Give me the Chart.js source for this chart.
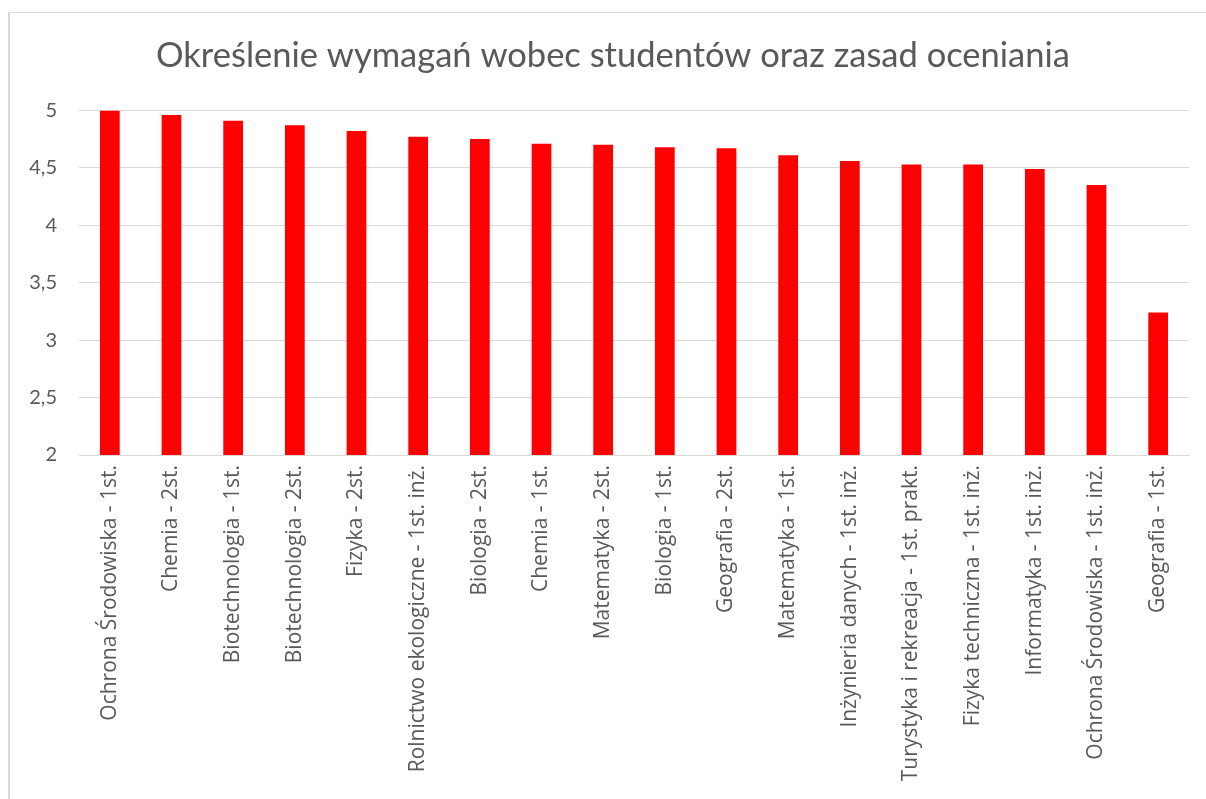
<!DOCTYPE html>
<html>
<head>
<meta charset="utf-8">
<script src="https://cdn.jsdelivr.net/npm/chart.js@4"></script>
<style>
  html, body { margin: 0; padding: 0; background: #fff; }
  #frame { position: absolute; left: 8px; top: 12px; width: 1250px; height: 900px;
           border-top: 1px solid #d9d9d9; border-left: 2px solid #d9d9d9; }
  #wrap { position: absolute; left: 0; top: 0; width: 1206px; height: 799px; }
</style>
</head>
<body>
<div id="frame"></div>
<div id="wrap"><canvas id="chart"></canvas></div>
<script>
const title = 'Określenie wymagań wobec studentów oraz zasad oceniania';

const categories = [
  'Ochrona Środowiska - 1st.',
  'Chemia - 2st.',
  'Biotechnologia - 1st.',
  'Biotechnologia - 2st.',
  'Fizyka - 2st.',
  'Rolnictwo ekologiczne - 1st. inż.',
  'Biologia - 2st.',
  'Chemia - 1st.',
  'Matematyka - 2st.',
  'Biologia - 1st.',
  'Geografia - 2st.',
  'Matematyka - 1st.',
  'Inżynieria danych - 1st. inż.',
  'Turystyka i rekreacja - 1st. prakt.',
  'Fizyka techniczna - 1st. inż.',
  'Informatyka - 1st. inż.',
  'Ochrona Środowiska - 1st. inż.',
  'Geografia - 1st.'
];

const scores = [5.00, 4.96, 4.91, 4.87, 4.82, 4.77, 4.75, 4.71, 4.70, 4.68, 4.67, 4.61, 4.56, 4.53, 4.53, 4.49, 4.35, 3.24];

const yTicks = [2, 2.5, 3, 3.5, 4, 4.5, 5];

const textColor = '#595959';
const gridColor = '#d9d9d9';

// centre the title over the frame rather than the whole canvas
const titleShift = {
  id: 'titleShift',
  beforeDraw(chart) {
    const t = chart.titleBlock;
    if (t) { t.left = 37; t.right = 1189; }
  }
};

const ctx = document.getElementById('chart').getContext('2d');
new Chart(ctx, {
  type: 'bar',
  data: {
    labels: categories,
    datasets: [{
      data: scores,
      backgroundColor: '#ff0000',
      barPercentage: 0.32,
      categoryPercentage: 1
    }]
  },
  options: {
    responsive: true,
    maintainAspectRatio: false,
    animation: false,
    layout: { padding: { left: 20, right: 17, top: 0, bottom: 0 } },
    plugins: {
      legend: { display: false },
      tooltip: { enabled: false },
      title: {
        display: true,
        text: title,
        color: textColor,
        font: { family: 'Lato', size: 34.5, weight: 'normal' },
        padding: { top: 35, bottom: 34 }
      }
    },
    scales: {
      x: {
        grid: { display: false, drawTicks: false },
        border: { color: gridColor, width: 1 },
        ticks: {
          color: textColor,
          font: { family: 'Open Sans', size: 21 },
          maxRotation: 90,
          minRotation: 90,
          autoSkip: false,
          padding: 10
        },
        afterFit: s => { s.height = 344; }
      },
      y: {
        min: 2,
        max: 5,
        afterBuildTicks: s => { s.ticks = yTicks.map(v => ({ value: v })); },
        grid: { color: gridColor, lineWidth: 1, drawTicks: false },
        border: { display: false },
        ticks: {
          color: textColor,
          font: { family: 'Lato', size: 20 },
          padding: 22,
          callback: v => String(v).replace('.', ',')
        },
        afterFit: s => { s.width = 59; }
      }
    }
  },
  plugins: [titleShift]
});
</script>
</body>
</html>
